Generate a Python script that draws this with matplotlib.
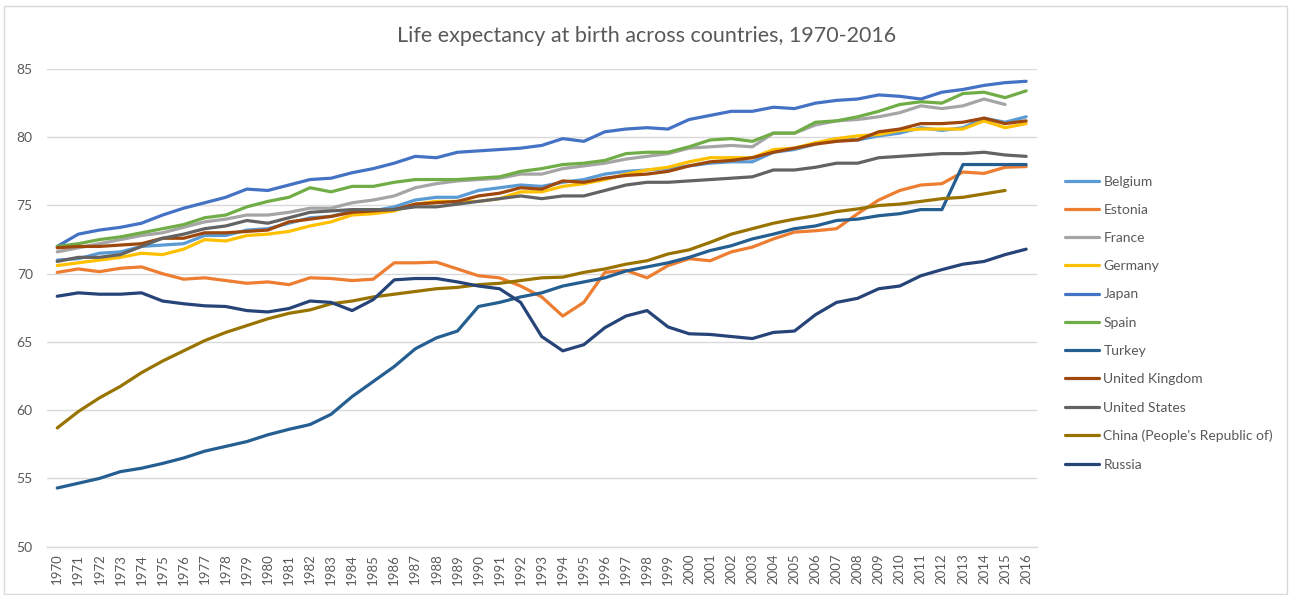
import matplotlib
matplotlib.use("Agg")
import matplotlib.pyplot as plt
from matplotlib.patches import Rectangle

plt.rcParams['font.family'] = ['Lato', 'DejaVu Sans']

years = list(range(1970, 2017))

belgium = [71.0, 71.1, 71.5, 71.6, 72.0, 72.1, 72.2, 72.8, 72.8, 73.2, 73.3, 73.7, 74.1, 74.2, 74.6,
           74.6, 74.9, 75.4, 75.6, 75.6, 76.1, 76.3, 76.5, 76.4, 76.7, 76.9, 77.3, 77.5, 77.6, 77.7,
           77.9, 78.1, 78.2, 78.2, 78.9, 79.1, 79.5, 79.9, 79.8, 80.1, 80.3, 80.7, 80.5, 80.7, 81.4,
           81.1, 81.5]
estonia = [70.1, 70.35, 70.15, 70.4, 70.5, 70.0, 69.6, 69.7, 69.5, 69.3, 69.4, 69.2, 69.7, 69.65, 69.5,
           69.6, 70.8, 70.8, 70.85, 70.35, 69.85, 69.7, 69.1, 68.3, 66.9, 67.9, 70.1, 70.25, 69.7, 70.6,
           71.1, 70.95, 71.6, 71.95, 72.55, 73.05, 73.15, 73.3, 74.4, 75.4, 76.1, 76.5, 76.6, 77.45, 77.35,
           77.8, 77.85]
france = [71.6, 71.9, 72.2, 72.5, 72.8, 73.0, 73.4, 73.8, 74.0, 74.3, 74.3, 74.5, 74.8, 74.8, 75.2,
          75.4, 75.7, 76.3, 76.6, 76.8, 76.9, 77.0, 77.3, 77.3, 77.7, 77.9, 78.1, 78.4, 78.6, 78.8,
          79.2, 79.3, 79.4, 79.3, 80.3, 80.3, 80.9, 81.2, 81.3, 81.5, 81.8, 82.3, 82.1, 82.3, 82.8,
          82.4, None]
germany = [70.6, 70.8, 71.0, 71.2, 71.5, 71.4, 71.8, 72.5, 72.4, 72.8, 72.9, 73.1, 73.5, 73.8, 74.3,
           74.4, 74.6, 75.1, 75.3, 75.3, 75.3, 75.5, 76.0, 76.0, 76.4, 76.6, 76.9, 77.3, 77.6, 77.8,
           78.2, 78.5, 78.5, 78.5, 79.1, 79.2, 79.6, 79.9, 80.1, 80.2, 80.5, 80.6, 80.6, 80.6, 81.2,
           80.7, 81.0]
japan = [72.0, 72.9, 73.2, 73.4, 73.7, 74.3, 74.8, 75.2, 75.6, 76.2, 76.1, 76.5, 76.9, 77.0, 77.4,
         77.7, 78.1, 78.6, 78.5, 78.9, 79.0, 79.1, 79.2, 79.4, 79.9, 79.7, 80.4, 80.6, 80.7, 80.6,
         81.3, 81.6, 81.9, 81.9, 82.2, 82.1, 82.5, 82.7, 82.8, 83.1, 83.0, 82.8, 83.3, 83.5, 83.8,
         84.0, 84.1]
spain = [72.0, 72.2, 72.5, 72.7, 73.0, 73.3, 73.6, 74.1, 74.3, 74.9, 75.3, 75.6, 76.3, 76.0, 76.4,
         76.4, 76.7, 76.9, 76.9, 76.9, 77.0, 77.1, 77.5, 77.7, 78.0, 78.1, 78.3, 78.8, 78.9, 78.9,
         79.3, 79.8, 79.9, 79.7, 80.3, 80.3, 81.1, 81.2, 81.5, 81.9, 82.4, 82.6, 82.5, 83.2, 83.3,
         82.9, 83.4]
turkey = [54.3, 54.65, 55.0, 55.5, 55.75, 56.1, 56.5, 57.0, 57.35, 57.7, 58.2, 58.6, 58.95, 59.7, 61.0,
          62.1, 63.2, 64.5, 65.3, 65.8, 67.6, 67.9, 68.3, 68.6, 69.1, 69.4, 69.7, 70.2, 70.5, 70.8,
          71.2, 71.7, 72.05, 72.55, 72.9, 73.3, 73.5, 73.9, 74.0, 74.25, 74.4, 74.7, 74.7, 78.0, 78.0,
          78.0, 78.0]
uk = [71.9, 72.0, 72.0, 72.1, 72.2, 72.6, 72.6, 73.0, 73.0, 73.1, 73.2, 73.8, 74.0, 74.2, 74.5,
      74.6, 74.7, 75.1, 75.2, 75.3, 75.7, 75.9, 76.3, 76.2, 76.8, 76.7, 77.0, 77.2, 77.3, 77.5,
      77.9, 78.2, 78.3, 78.5, 78.9, 79.2, 79.5, 79.7, 79.8, 80.4, 80.6, 81.0, 81.0, 81.1, 81.4,
      81.0, 81.2]
usa = [70.9, 71.2, 71.2, 71.4, 72.0, 72.6, 72.9, 73.3, 73.5, 73.9, 73.7, 74.1, 74.5, 74.6, 74.7,
       74.7, 74.7, 74.9, 74.9, 75.1, 75.3, 75.5, 75.7, 75.5, 75.7, 75.7, 76.1, 76.5, 76.7, 76.7,
       76.8, 76.9, 77.0, 77.1, 77.6, 77.6, 77.8, 78.1, 78.1, 78.5, 78.6, 78.7, 78.8, 78.8, 78.9,
       78.7, 78.6]
china = [58.7, 59.9, 60.9, 61.75, 62.75, 63.6, 64.35, 65.1, 65.7, 66.2, 66.7, 67.1, 67.35, 67.8, 68.0,
         68.3, 68.5, 68.7, 68.9, 69.0, 69.2, 69.3, 69.5, 69.7, 69.75, 70.1, 70.35, 70.7, 70.95, 71.45,
         71.75, 72.3, 72.9, 73.3, 73.7, 74.0, 74.25, 74.55, 74.75, 75.0, 75.1, 75.3, 75.5, 75.6, 75.85,
         76.1, None]
russia = [68.35, 68.6, 68.5, 68.5, 68.6, 68.0, 67.8, 67.65, 67.6, 67.3, 67.2, 67.45, 68.0, 67.9, 67.3,
          68.1, 69.55, 69.65, 69.65, 69.4, 69.1, 68.9, 67.9, 65.4, 64.35, 64.8, 66.05, 66.9, 67.3, 66.1,
          65.6, 65.55, 65.4, 65.25, 65.7, 65.8, 67.0, 67.9, 68.2, 68.9, 69.1, 69.85, 70.3, 70.7, 70.9,
          71.4, 71.8]

series_names = ["Belgium", "Estonia", "France", "Germany", "Japan", "Spain", "Turkey",
                "United Kingdom", "United States", "China (People's Republic of)", "Russia"]
series_values = [belgium, estonia, france, germany, japan, spain, turkey, uk, usa, china, russia]
series_colors = ["#5B9BD5", "#ED7D31", "#A5A5A5", "#FFC000", "#4472C4", "#70AD47", "#255E91",
                 "#9E480E", "#636363", "#997300", "#264478"]

y_ticks = [50, 55, 60, 65, 70, 75, 80, 85]
title = "Life expectancy at birth across countries, 1970-2016"

W, H = 1294, 595
fig = plt.figure(figsize=(W / 100, H / 100), dpi=100)
fig.patch.set_facecolor("white")

# chart border
fig.add_artist(Rectangle((4 / W, 0.002), (1287 - 4) / W, (595 - 7) / H, transform=fig.transFigure,
                         fill=False, edgecolor="#D9D9D9", linewidth=1.0))

left, right = 46.7 / W, 1036.7 / W
bottom, top = 1 - 546.7 / H, 1 - 69.0 / H
ax = fig.add_axes([left, bottom, right - left, top - bottom])

handles = []
for name, vals, col in zip(series_names, series_values, series_colors):
    xs = [y for y, v in zip(years, vals) if v is not None]
    vs = [v for v in vals if v is not None]
    h, = ax.plot(xs, vs, color=col, linewidth=2.3, label=name, solid_capstyle="round",
                 solid_joinstyle="round")
    handles.append(h)

ax.set_xlim(1969.5, 2016.5)
ax.set_ylim(50, 85)
ax.set_yticks(y_ticks)
ax.set_xticks(years)
ax.set_xticklabels([str(y) for y in years], rotation=90, fontsize=9.5, color="#595959")
ax.tick_params(axis="y", labelsize=10, colors="#595959", length=0, pad=10)
ax.tick_params(axis="x", length=0, pad=5)
ax.grid(axis="y", color="#D9D9D9", linewidth=1.0)
ax.set_axisbelow(True)
for s in ["top", "right", "left"]:
    ax.spines[s].set_visible(False)
ax.spines["bottom"].set_color("#D9D9D9")
ax.spines["bottom"].set_linewidth(1.0)

fig.text(647 / W, 1 - 36 / H, title, ha="center", va="center", fontsize=15.5, color="#595959")

leg = fig.legend(handles=handles, loc="upper left", bbox_to_anchor=(1052 / W, 1 - 163 / H),
                 frameon=False, fontsize=10, handlelength=2.5, handletextpad=0.3,
                 labelspacing=1.17, labelcolor="#595959")

fig.savefig("out.png", dpi=100, facecolor="white")
